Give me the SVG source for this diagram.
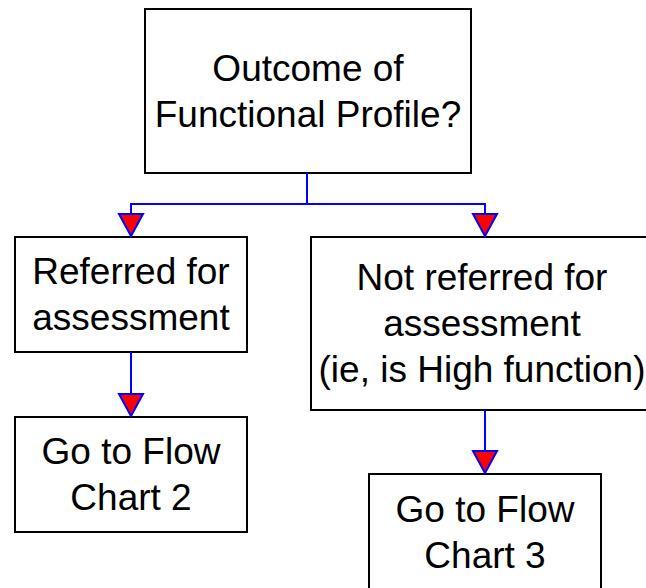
<svg xmlns="http://www.w3.org/2000/svg" width="646" height="588" viewBox="0 0 646 588">
<style>
.box{fill:#fff;stroke:#000;stroke-width:2}
.t{font-family:"Liberation Sans",Arial,sans-serif;font-size:37px;fill:#000;text-anchor:middle}
.c{fill:none;stroke:#0000ff;stroke-width:2;marker-end:url(#ah)}
</style>
<defs>
<marker id="ah" viewBox="-2 -14 26 28" markerUnits="userSpaceOnUse" markerWidth="26" markerHeight="28" refX="22" refY="0" orient="auto">
<polygon points="0,-12 22,0 0,12" fill="#ff0000" stroke="#0000ff" stroke-width="2" stroke-linejoin="miter"/>
</marker>
</defs>
<rect width="646" height="588" fill="#fff"/>
<g id="n1"><rect class="box" x="145" y="9" width="326" height="164"/>
<text class="t" x="308" y="81">Outcome of</text><text class="t" x="308" y="127">Functional Profile?</text></g>
<g id="n2"><rect class="box" x="15" y="237" width="232" height="115"/>
<text class="t" x="131" y="284">Referred for</text><text class="t" x="131" y="330">assessment</text></g>
<g id="n3"><rect class="box" x="311" y="237" width="342" height="173"/>
<text class="t" x="482" y="290">Not referred for</text><text class="t" x="482" y="336">assessment</text><text class="t" x="482" y="382">(ie, is High function)</text></g>
<g id="n4"><rect class="box" x="15" y="417" width="232" height="115"/>
<text class="t" x="131" y="464">Go to Flow</text><text class="t" x="131" y="510">Chart 2</text></g>
<g id="n5"><rect class="box" x="369" y="474" width="232" height="116"/>
<text class="t" x="485" y="522">Go to Flow</text><text class="t" x="485" y="568">Chart 3</text></g>
<g id="connectors">
<path class="c" d="M307,173 V204 H131 V236"/>
<path class="c" d="M307,204 H485 V236"/>
<path class="c" d="M131,352 V416"/>
<path class="c" d="M485,410 V473"/>
</g>
</svg>
